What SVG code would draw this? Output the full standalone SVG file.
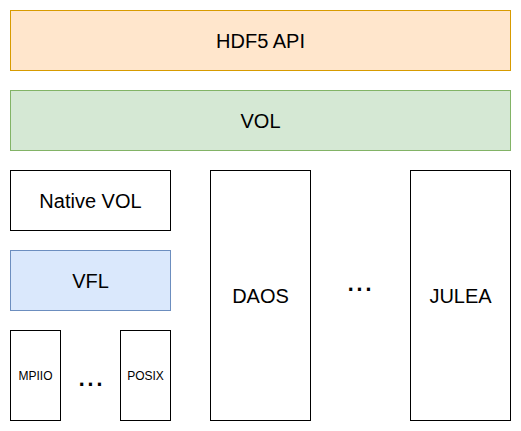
<svg xmlns="http://www.w3.org/2000/svg" width="521" height="431" viewBox="0 0 521 431">
<style>
rect{stroke-width:1;}
.w{fill:#ffffff;stroke:#000000;}
text{font-family:"Liberation Sans",Arial,Helvetica,sans-serif;fill:#000000;text-anchor:middle;}
.l{font-size:20px;}
.s{font-size:12px;}
.d{font-size:32px;}
</style>
<rect width="521" height="431" fill="#ffffff"/>
<g id="hdf5api"><rect x="10.5" y="10.5" width="500" height="60" fill="#ffe6cc" stroke="#d79b00"/><text class="l" x="260.5" y="47.5">HDF5 API</text></g>
<g id="vol"><rect x="10.5" y="90.5" width="500" height="60" fill="#d5e8d4" stroke="#82b366"/><text class="l" x="260.5" y="127.5">VOL</text></g>
<g id="nativevol"><rect class="w" x="10.5" y="170.5" width="160" height="60"/><text class="l" x="90.5" y="207.5">Native VOL</text></g>
<g id="vfl"><rect x="10.5" y="250.5" width="160" height="60" fill="#dae8fc" stroke="#6c8ebf"/><text class="l" x="90.5" y="287.5">VFL</text></g>
<g id="mpiio"><rect class="w" x="10.5" y="330.5" width="50" height="90"/><text class="s" x="35.5" y="379.5">MPIIO</text></g>
<g id="posix"><rect class="w" x="120.5" y="330.5" width="50" height="90"/><text class="s" x="145.5" y="379.5">POSIX</text></g>
<g id="daos"><rect class="w" x="210.5" y="170.5" width="100" height="250"/><text class="l" x="260.5" y="302.5">DAOS</text></g>
<g id="julea"><rect class="w" x="410.5" y="170.5" width="100" height="250"/><text class="l" x="460.5" y="302.5">JULEA</text></g>
<g id="dots1"><text class="d" x="90.5" y="386">...</text></g>
<g id="dots2"><text class="d" x="359.5" y="291">...</text></g>
<g id="connectors"></g>
</svg>
